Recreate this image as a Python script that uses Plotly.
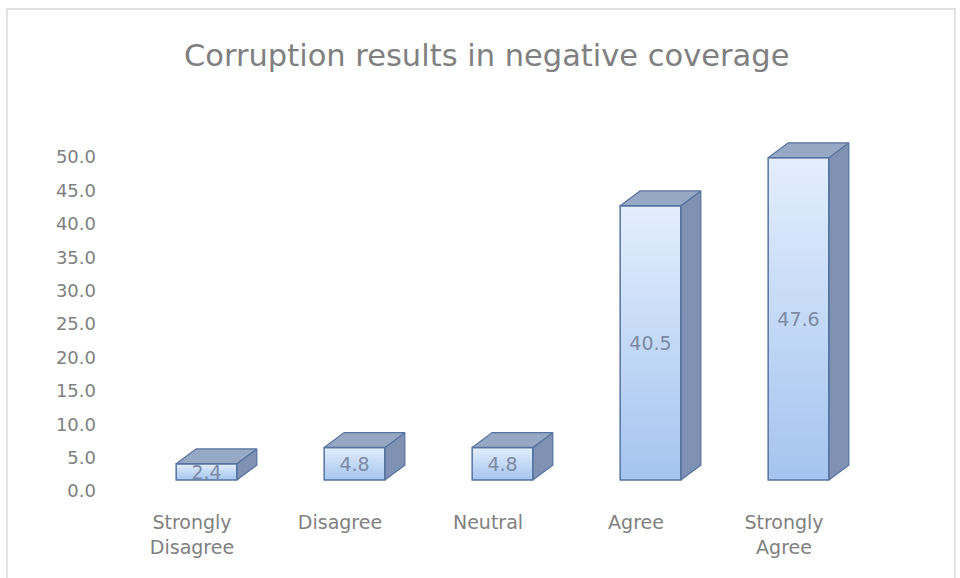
import plotly.graph_objects as go

# Survey responses (percent of respondents)
categories = ["Strongly<br>Disagree", "Disagree", "Neutral", "Agree", "Strongly<br>Agree"]
values = [2.4, 4.8, 4.8, 40.5, 47.6]
tick_values = [0, 5, 10, 15, 20, 25, 30, 35, 40, 45, 50]

# Column geometry in axis units (front face + pseudo-3D depth)
OFF = -0.107      # left edge of front face relative to category centre
W = 0.41          # width of front face
DX = 0.135        # depth offset to the right
DY = 2.2          # depth offset upwards

FRONT_TOP = "#e3eefd"
FRONT_BOTTOM = "#a4c4ef"
SIDE = "#7f92b3"
TOP = "#97a8c5"
EDGE = "#56739f"
GREY = "#808080"
FONT = "DejaVu Sans"

fig = go.Figure()

side_x, side_y, top_x, top_y = [], [], [], []
for i, v in enumerate(values):
    x0 = i + OFF
    x1 = x0 + W
    # front face with vertical gradient
    fig.add_trace(go.Scatter(
        x=[x0, x1, x1, x0, x0], y=[0, 0, v, v, 0],
        mode="lines", fill="toself", line=dict(width=0),
        fillgradient=dict(type="vertical",
                          colorscale=[[0, FRONT_BOTTOM], [1, FRONT_TOP]]),
        hoverinfo="skip", showlegend=False, xaxis="x", yaxis="y"))
    side_x += [x1, x1 + DX, x1 + DX, x1, x1, None]
    side_y += [0, DY, v + DY, v, 0, None]
    top_x += [x0, x1, x1 + DX, x0 + DX, x0, None]
    top_y += [v, v, v + DY, v + DY, v, None]

fig.add_trace(go.Scatter(
    x=side_x, y=side_y, mode="lines", fill="toself", fillcolor=SIDE,
    line=dict(color=EDGE, width=1.2), hoverinfo="skip", showlegend=False,
    xaxis="x", yaxis="y"))
fig.add_trace(go.Scatter(
    x=top_x, y=top_y, mode="lines", fill="toself", fillcolor=TOP,
    line=dict(color=EDGE, width=1.2), hoverinfo="skip", showlegend=False,
    xaxis="x", yaxis="y"))

# Front faces as bars: outline and value labels
fig.add_trace(go.Bar(
    x=list(range(len(values))), y=values,
    offset=OFF, width=W,
    marker=dict(color="rgba(0,0,0,0)", line=dict(color=EDGE, width=1.5)),
    text=[f"{v:.1f}" for v in values], textposition="inside",
    insidetextanchor="middle", constraintext="none",
    textfont=dict(family=FONT, size=19, color="#7d8aa3"),
    hoverinfo="skip", showlegend=False, xaxis="x", yaxis="y2"))

# Invisible carrier for the value axis labels
fig.add_trace(go.Scatter(
    x=[0], y=[0], mode="markers", marker=dict(opacity=0),
    hoverinfo="skip", showlegend=False, xaxis="x", yaxis="y3"))

bar_range = [-1.62, 51.7]

fig.update_layout(
    width=960, height=578,
    margin=dict(l=118, r=102, t=130, b=87),
    paper_bgcolor="white", plot_bgcolor="white",
    title=dict(text="Corruption results in negative coverage",
               x=0.507, xanchor="center", y=0.905, yanchor="middle",
               font=dict(family=FONT, size=30.5, color=GREY)),
    xaxis=dict(range=[-0.5, 4.5], tickmode="array",
               tickvals=list(range(len(categories))), ticktext=categories,
               showgrid=False, zeroline=False, showline=False, ticks="",
               ticklabelstandoff=18,
               tickfont=dict(family=FONT, size=19, color=GREY)),
    yaxis=dict(range=bar_range, visible=False, showgrid=False, zeroline=False),
    yaxis2=dict(range=bar_range, overlaying="y", visible=False,
                showgrid=False, zeroline=False),
    yaxis3=dict(range=[0, 54.04], overlaying="y", side="left",
                tickmode="array", tickvals=tick_values,
                ticktext=[f"{t:.1f}" for t in tick_values],
                showgrid=False, zeroline=False, showline=False, ticks="",
                ticklabelstandoff=21,
                tickfont=dict(family=FONT, size=18, color=GREY)),
    shapes=[dict(type="rect", xref="paper", yref="paper",
                 x0=-0.15, x1=1.131, y0=-0.31, y1=1.335,
                 line=dict(color="#d9d9d9", width=1.5),
                 fillcolor="rgba(0,0,0,0)", layer="below")],
    hovermode=False,
)

fig.write_html("out.html")
